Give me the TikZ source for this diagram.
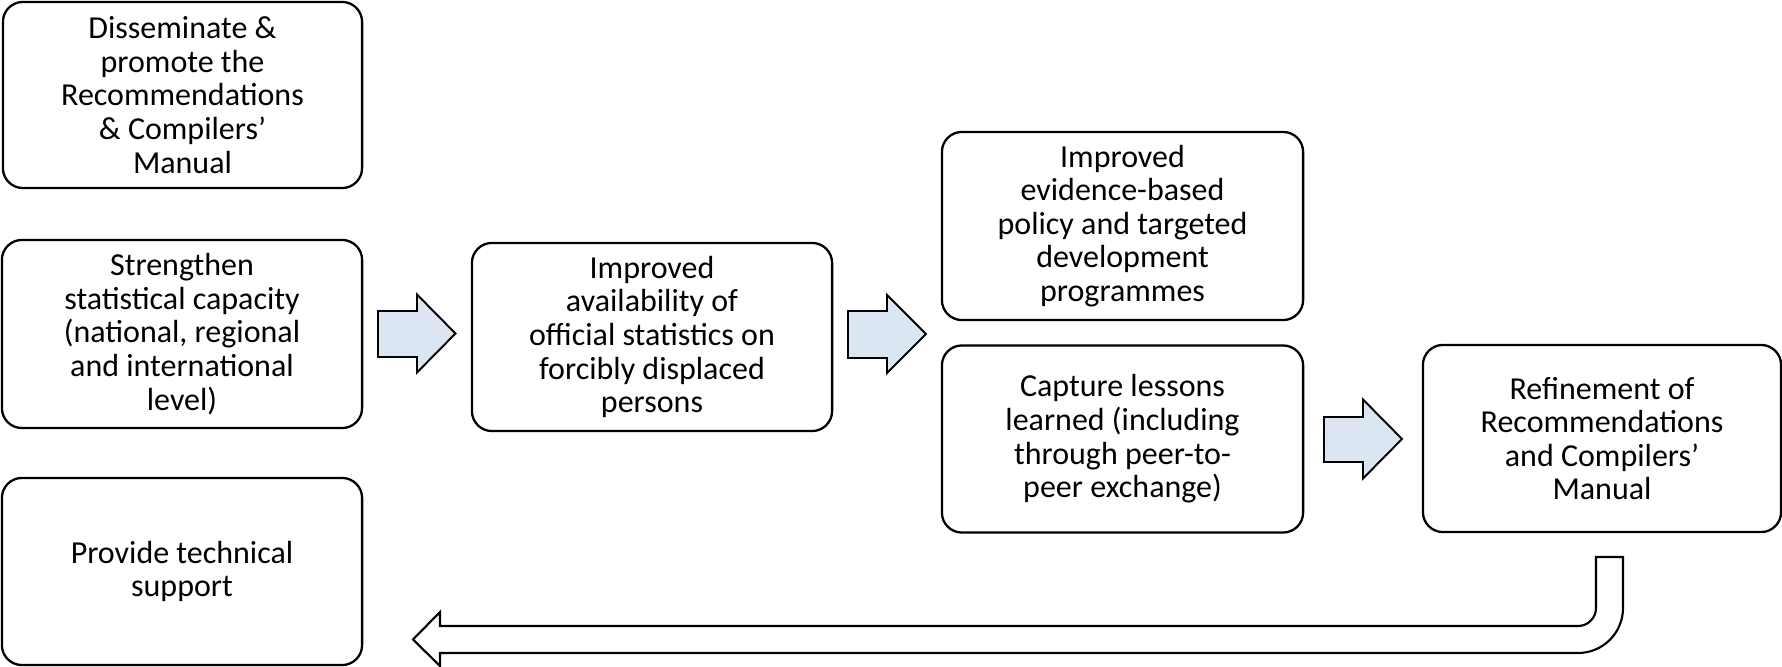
\documentclass[tikz,border=0pt]{standalone}
\usepackage{fontspec}
\setmainfont{Carlito}
\definecolor{arrowfill}{RGB}{220,230,243}
\begin{document}
\begin{tikzpicture}[x=0.01cm,y=-0.01cm,
  box/.style={draw=black, line width=0.65pt, rounded corners=0.2cm, fill=white,
    align=center, inner sep=0pt, font=\fontsize{9.1}{9.55}\selectfont},
  blockarrow/.style={draw=black, line width=0.55pt, fill=arrowfill, line join=miter},
  returnarrow/.style={draw=black, line width=0.6pt, fill=white, line join=miter}]
\useasboundingbox (0,0) rectangle (1782,667);

\node[box, minimum width=3.59cm, minimum height=1.86cm] (diss) at (182.5,95)
  {Disseminate \&\\promote the\\Recommendations\\\& Compilers’\\Manual};
\node[box, minimum width=3.6cm, minimum height=1.88cm] (stren) at (182,334)
  {Strengthen\\statistical capacity\\(national, regional\\and international\\level)};
\node[box, minimum width=3.6cm, minimum height=1.87cm] (tech) at (182,571.5)
  {Provide technical\\support};
\node[box, minimum width=3.6cm, minimum height=1.88cm] (avail) at (652,337)
  {Improved\\availability of\\official statistics on\\forcibly displaced\\persons};
\node[box, minimum width=3.61cm, minimum height=1.88cm] (policy) at (1122.5,226)
  {Improved\\evidence-based\\policy and targeted\\development\\programmes};
\node[box, minimum width=3.61cm, minimum height=1.87cm] (lessons) at (1122.5,439)
  {Capture lessons\\learned (including\\through peer-to-\\peer exchange)};
\node[box, minimum width=3.58cm, minimum height=1.87cm] (refine) at (1602,438.5)
  {Refinement of\\Recommendations\\and Compilers’\\Manual};

% block arrows
\draw[blockarrow] (378,311) -- (417,311) -- (417,294.5) -- (455.5,333.5) -- (417,372.5) -- (417,357) -- (378,357) -- cycle;
\draw[blockarrow] (848,311) -- (887,311) -- (887,295) -- (926,334) -- (887,373) -- (887,358) -- (848,358) -- cycle;
\draw[blockarrow] (1324,417) -- (1363,417) -- (1363,399.5) -- (1402,439) -- (1363,478.5) -- (1363,462) -- (1324,462) -- cycle;

% return U-arrow
\draw[returnarrow] (1596,557) -- (1596,608)
  .. controls (1596,617.9) and (1587.9,626) .. (1578,626)
  -- (440,626) -- (440,612) -- (413,639.5) -- (440,666) -- (440,653)
  -- (1578,653)
  .. controls (1602.9,653) and (1623,632.9) .. (1623,608)
  -- (1623,557) -- cycle;
\end{tikzpicture}
\end{document}
